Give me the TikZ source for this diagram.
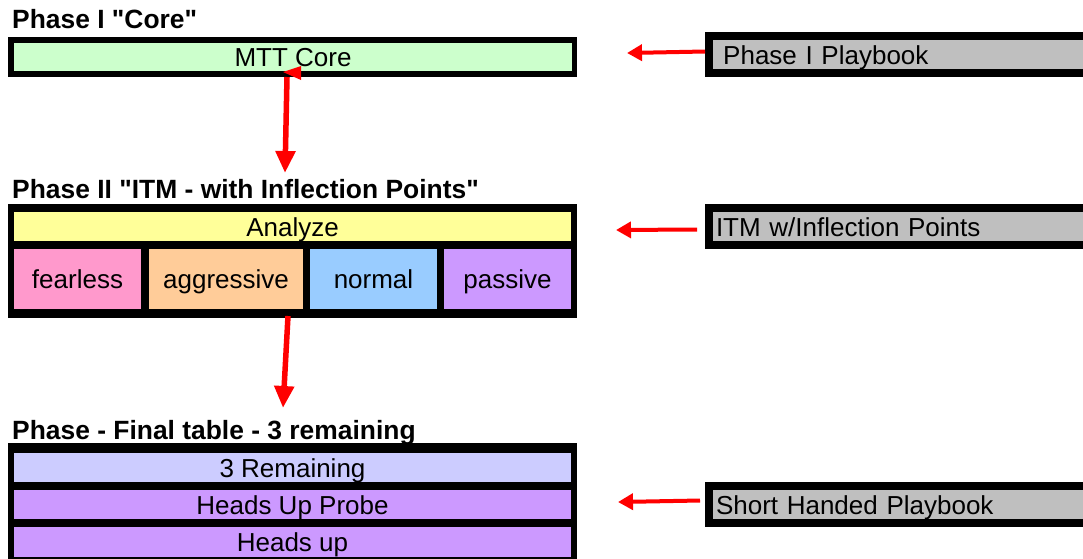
\documentclass[tikz,border=0pt]{standalone}
\usepackage{fontspec}
\setmainfont{Liberation Sans}[Ligatures=TeXOff]
\usetikzlibrary{arrows.meta,calc}
\definecolor{corefill}{HTML}{CCFFCC}
\definecolor{analyzefill}{HTML}{FFFF99}
\definecolor{fearlessfill}{HTML}{FF99CC}
\definecolor{aggrfill}{HTML}{FFCC99}
\definecolor{normalfill}{HTML}{99CCFF}
\definecolor{passivefill}{HTML}{CC99FF}
\definecolor{remainfill}{HTML}{CCCCFF}
\definecolor{bookfill}{HTML}{BFBFBF}
\definecolor{arrowred}{HTML}{FF0000}
\begin{document}
\begin{tikzpicture}[x=1pt,y=-1pt,
  frame/.style={fill=black, inner sep=0pt, outer sep=0pt, anchor=north west},
  cell/.style={inner sep=0pt, outer sep=0pt, anchor=north west,
    text height=19pt, text depth=0pt,
    font=\fontsize{26}{30}\selectfont},
  bookcell/.style={cell, fill=bookfill, text width=380pt, align=left,
    inner xsep=3pt},
  title/.style={anchor=base west, inner sep=0pt,
    font=\bfseries\fontsize{26.4}{30}\selectfont},
  flow/.style={arrowred, line width=5.5pt, -{Triangle[length=22pt,width=19pt]}},
  feed/.style={arrowred, line width=4pt, -{Triangle[length=15pt,width=16pt]}},
]
\useasboundingbox (0,0) rectangle (1083,558);

% ---- Phase I ----
\node[title] (t1) at (12,28) {Phase I "Core"};
\node[frame, minimum width=569pt, minimum height=40pt] (coreframe) at (8,37) {};
\node[cell, fill=corefill, minimum width=558pt, minimum height=28pt] (core) at (14,43) {MTT Core};

\node[frame, minimum width=390pt, minimum height=45pt] (pb1frame) at (705,32) {};
\node[bookcell, minimum height=29pt] (pb1) at (713,40) {\hspace*{0.278em}Phase I Playbook};

% ---- Phase II ----
\node[title] (t2) at (12,198) {Phase II "ITM - with Inflection Points"};
\node[frame, minimum width=569pt, minimum height=114pt] (itmframe) at (8,204) {};
\node[cell, fill=analyzefill, minimum width=557pt, minimum height=29pt] (analyze) at (14,212) {Analyze};
\node[cell, fill=fearlessfill, minimum width=127pt, minimum height=60pt] (fearless) at (14,249) {fearless};
\node[cell, fill=aggrfill, minimum width=154pt, minimum height=60pt] (aggressive) at (149,249) {aggressive};
\node[cell, fill=normalfill, minimum width=127pt, minimum height=60pt] (normal) at (310,249) {normal};
\node[cell, fill=passivefill, minimum width=127pt, minimum height=60pt] (passive) at (444,249) {passive};

\node[frame, minimum width=390pt, minimum height=45pt] (itmbookframe) at (705,204) {};
\node[bookcell, minimum height=29pt] (itmbook) at (713,212) {ITM w/Inflection Points};

% ---- Final table ----
\node[title] (t3) at (12,439) {Phase - Final table - 3 remaining};
\node[frame, minimum width=569pt, minimum height=125pt] (finalframe) at (8,443) {};
\node[cell, fill=remainfill, minimum width=557pt, minimum height=29pt] (remain) at (14,453) {3 Remaining};
\node[cell, fill=passivefill, minimum width=557pt, minimum height=29pt] (probe) at (14,490) {Heads Up Probe};
\node[cell, fill=passivefill, minimum width=557pt, minimum height=30pt] (headsup) at (14,527) {Heads up};

\node[frame, minimum width=390pt, minimum height=45pt] (shbookframe) at (705,482) {};
\node[bookcell, minimum height=29pt] (shbook) at (713,490) {Short Handed Playbook};

% ---- connectors ----
\coordinate (down1) at (285,173);
\coordinate (down2) at (283,408);
\coordinate (left1) at (627,53);
\coordinate (left2) at (616,230);
\coordinate (left3) at (618,502);

\draw[flow] ($(coreframe.south west)+(279,0)$) -- (down1);
\fill[arrowred] ($(coreframe.south west)+(275,-5)$) -- ++(18,-6) -- ++(0,14) -- cycle;
\draw[flow] ($(itmframe.south west)+(280,-2)$) -- (down2);

\draw[feed] ($(pb1frame.west)+(0,-3)$) -- (left1);
\draw[feed] ($(itmbookframe.west)+(-8,3)$) -- (left2);
\draw[feed] ($(shbookframe.west)+(-5,-4)$) -- (left3);
\end{tikzpicture}
\end{document}
